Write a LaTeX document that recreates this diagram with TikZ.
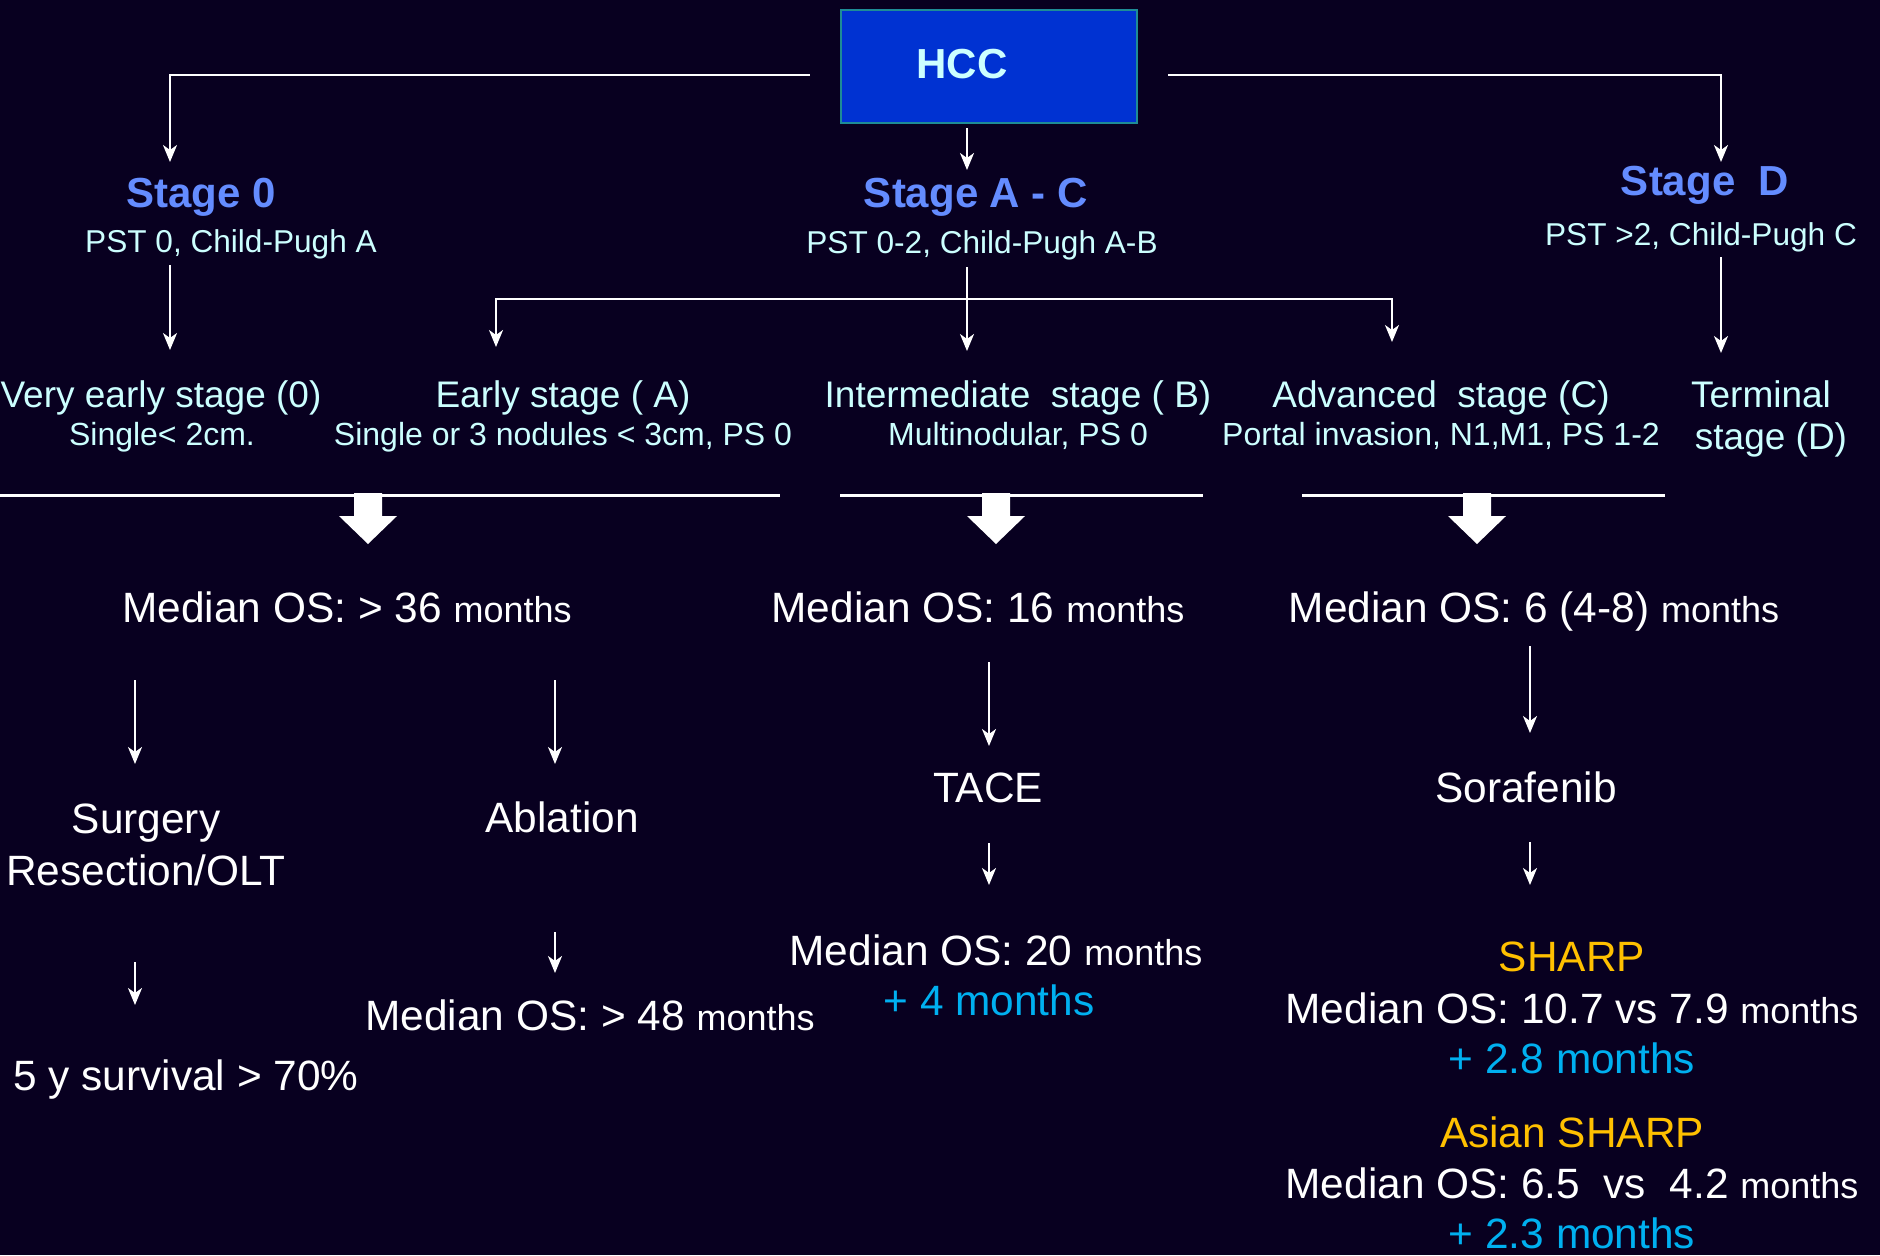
\documentclass[tikz,border=0pt]{standalone}
\usepackage{fontspec}
\setmainfont{Liberation Sans}
\usetikzlibrary{arrows.meta}
\definecolor{bgnavy}{RGB}{8,0,32}
\definecolor{hccblue}{RGB}{0,50,210}
\definecolor{hccedge}{RGB}{30,140,150}
\definecolor{stageblue}{RGB}{100,140,255}
\definecolor{palecyan}{RGB}{204,255,255}
\definecolor{gainblue}{RGB}{0,176,240}
\definecolor{trialgold}{RGB}{255,192,0}
\newcommand{\smallmonths}{\fontsize{18pt}{22pt}\selectfont months}
\tikzset{
	txt/.style={inner sep=0pt, anchor=base},
	stagetitle/.style={txt, text=stageblue, font=\fontsize{21pt}{25pt}\selectfont\bfseries},
	stagesub/.style={txt, text=palecyan, font=\fontsize{15.8pt}{19pt}\selectfont},
	rowtitle/.style={txt, text=palecyan, font=\fontsize{18.5pt}{22pt}\selectfont},
	rowsub/.style={txt, text=palecyan, font=\fontsize{16pt}{19pt}\selectfont},
	bigtext/.style={txt, text=white, font=\fontsize{21.2pt}{25pt}\selectfont},
	gaintext/.style={bigtext, text=gainblue},
	trialtext/.style={bigtext, text=trialgold},
	arr/.style={draw=white, line width=1pt, -{Stealth[length=8.5pt,width=7pt,inset=2.5pt]}},
	bar/.style={draw=white, line width=1.5pt},
}
\begin{document}
\begin{tikzpicture}[x=0.5pt,y=-0.5pt]
	\useasboundingbox (0,0) rectangle (1880,1255);
	\fill[bgnavy] (0,0) rectangle (1880,1255); % background
	\node[draw=hccedge, line width=1.2pt, fill=hccblue, minimum width=148pt, minimum height=56.5pt, inner sep=0pt] (hcc) at (989,66.5) {};
	\node[txt, text=palecyan, font=\fontsize{21pt}{25pt}\selectfont\bfseries] (hcctxt) at (962,78) {HCC};
	% stages
	\node[stagetitle] (st0) at (201,207) {Stage 0};
	\node[stagetitle] (stac) at (976,207) {Stage A - C};
	\node[stagetitle] (std) at (1705,195) {Stage~~D};
	\node[stagesub] (pst0) at (231,252) {PST 0, Child-Pugh A};
	\node[stagesub] (pstac) at (982,253) {PST 0-2, Child-Pugh A-B};
	\node[stagesub] (pstd) at (1701,245) {PST >2, Child-Pugh C};
	\draw[arr] ([shift={(-30,8.5)}]hcc.west) -| ([shift={(-31,-45)}]st0.base);
	\draw[arr] ([shift={(30,8.5)}]hcc.east) -| ([shift={(16,-33)}]std.base);
	\draw[arr] ([shift={(-22,4)}]hcc.south) -- ([shift={(-9,-37)}]stac.base);
	% BCLC classes
	\node[rowtitle] (vearly) at (161,407) {Very early stage (0)};
	\node[rowtitle] (early) at (563,407) {Early stage ( A)};
	\node[rowtitle] (inter) at (1018,407) {Intermediate~~stage ( B)};
	\node[rowtitle] (adv) at (1441,407) {Advanced~~stage (C)};
	\node[rowtitle] (term) at (1761,407) {Terminal};
	\node[rowtitle] (termb) at (1771,449) {stage (D)};
	\node[rowsub] (vearlyb) at (162,445) {Single< 2cm.};
	\node[rowsub] (earlyb) at (563,445) {Single or 3 nodules < 3cm, PS 0};
	\node[rowsub] (interb) at (1018,445) {Multinodular, PS 0};
	\node[rowsub] (advb) at (1441,445) {Portal invasion, N1,M1, PS 1-2};
	\draw[arr] ([shift={(-61,13)}]pst0.base) -- ([shift={(9,-57)}]vearly.base);
	\draw[arr] ([shift={(-15,14)}]pstac.base) -- ([shift={(-51,-56)}]inter.base);
	\draw[arr] ([shift={(-15,46)}]pstac.base) -| ([shift={(-67,-60)}]early.base);
	\draw[arr] ([shift={(-15,46)}]pstac.base) -| ([shift={(-49,-65)}]adv.base);
	\draw[arr] ([shift={(20,12)}]pstd.base) -- ([shift={(-40,-54)}]term.base);
	% bars and block arrows
	\draw[bar] (0,495) -- (780,495);
	\draw[bar] (840,495) -- (1203,495);
	\draw[bar] (1302,495) -- (1665,495);
	\foreach \x in {368,996,1477}
		\fill[white] (\x-14,493) -- (\x+14,493) -- (\x+14,516) -- (\x+29,516) -- (\x,544) -- (\x-29,516) -- (\x-14,516) -- cycle;
	% survival and treatment
	\node[bigtext] (os0) at (347,622) {Median OS: > 36 \smallmonths};
	\node[bigtext] (osb) at (978,622) {Median OS: 16 \smallmonths};
	\node[bigtext] (osc) at (1534,622) {Median OS: 6 (4-8) \smallmonths};
	\node[bigtext] (surg) at (146,833) {Surgery};
	\node[bigtext] (surgb) at (146,885) {Resection/OLT};
	\node[bigtext] (abl) at (562,832) {Ablation};
	\node[bigtext] (tace) at (988,802) {TACE};
	\node[bigtext] (sora) at (1526,802) {Sorafenib};
	\draw[arr] ([shift={(-212,58)}]os0.base) -- ([shift={(-11,-69)}]surg.base);
	\draw[arr] ([shift={(208,58)}]os0.base) -- ([shift={(-7,-68)}]abl.base);
	\draw[arr] ([shift={(11,40)}]osb.base) -- ([shift={(1,-56)}]tace.base);
	\draw[arr] ([shift={(-4,24)}]osc.base) -- ([shift={(4,-69)}]sora.base);
	% outcomes
	\node[bigtext] (surv) at (186,1090) {5 y survival > 70\%};
	\node[bigtext] (os48) at (590,1030) {Median OS: > 48 \smallmonths};
	\node[bigtext] (os20) at (996,965) {Median OS: 20 \smallmonths};
	\node[gaintext] (plus4) at (989,1015) {+ 4 months};
	\node[trialtext] (sharp) at (1572,971) {SHARP};
	\node[bigtext] (os107) at (1572,1023) {Median OS: 10.7 vs 7.9 \smallmonths};
	\node[gaintext] (plus28) at (1572,1073) {+ 2.8 months};
	\node[trialtext] (asharp) at (1572,1147) {Asian SHARP};
	\node[bigtext] (os65) at (1572,1198) {Median OS: 6.5~~vs~~4.2 \smallmonths};
	\node[gaintext] (plus23) at (1572,1248) {+ 2.3 months};
	\draw[arr] ([shift={(-11,77)}]surgb.base) -- ([shift={(-51,-85)}]surv.base);
	\draw[arr] ([shift={(-7,100)}]abl.base) -- ([shift={(-35,-57)}]os48.base);
	\draw[arr] ([shift={(1,41)}]tace.base) -- ([shift={(-7,-80)}]os20.base);
	\draw[arr] ([shift={(4,40)}]sora.base) -- ([shift={(-42,-86)}]sharp.base);
\end{tikzpicture}
\end{document}
